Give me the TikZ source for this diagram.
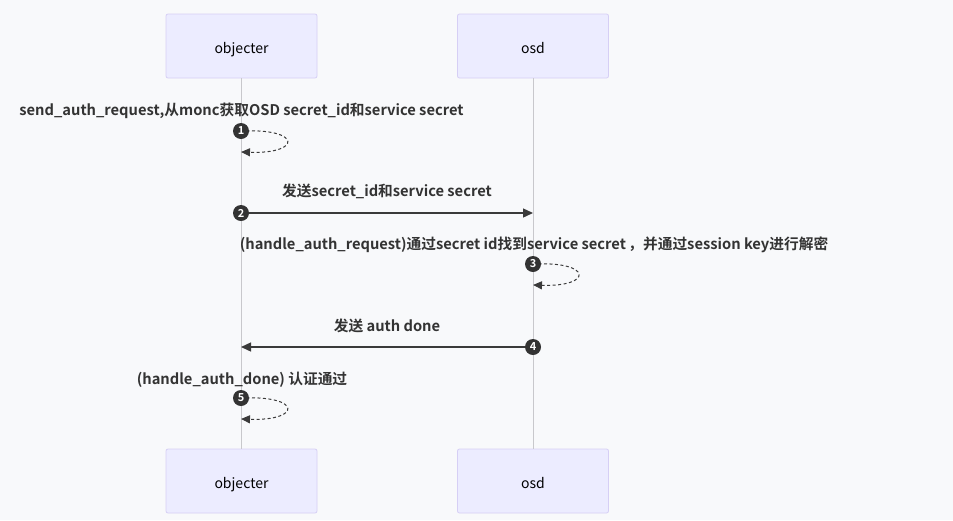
\documentclass[tikz,border=0pt]{standalone}
\usepackage{fontspec}
\setmainfont{Noto Sans CJK SC}[BoldFont={Noto Sans CJK SC Bold}]
\usetikzlibrary{arrows.meta}
\definecolor{bg}{HTML}{F8F9FB}
\definecolor{actfill}{HTML}{ECECFF}
\definecolor{actline}{HTML}{D6CFF5}
\definecolor{life}{HTML}{C8C8CC}
\definecolor{txt}{HTML}{333333}
\definecolor{arr}{HTML}{3A3A3A}
\begin{document}
\begin{tikzpicture}[x=1pt,y=-1pt,
  actor/.style={draw=actline,fill=actfill,rounded corners=2pt,minimum width=151pt,minimum height=64pt,inner sep=0pt,text height=10pt,text depth=3pt,font=\fontsize{14}{17}\selectfont,text=black,line width=0.8pt},
  lifeline/.style={draw=life,line width=0.8pt},
  msg/.style={font=\fontsize{14.7}{17}\selectfont\bfseries,text=txt,inner sep=0pt},
  numc/.style={circle,fill=txt,text=white,minimum size=16pt,inner sep=0pt,font=\fontsize{11}{11}\selectfont\bfseries},
  solidarr/.style={draw=arr,line width=1.4pt,-{Triangle[length=10pt,width=9pt]}},
  loopArr/.style={draw=arr,line width=1pt,dash pattern=on 3pt off 2.5pt,-{Triangle[length=9pt,width=8pt]}}
]
\fill[bg] (0,0) rectangle (953,520);
\useasboundingbox (0,0) rectangle (953,520);

\node[actor] (objT) at (241.5,46) {\raisebox{-4pt}{objecter}};
\node[actor] (osdT) at (533,46) {\raisebox{-3.5pt}{osd}};
\node[actor] (objB) at (241.5,481) {\raisebox{-4pt}{objecter}};
\node[actor] (osdB) at (533,481) {\raisebox{-3.5pt}{osd}};

\draw[lifeline] (objT.south) -- (objB.north);
\draw[lifeline] (osdT.south) -- (osdB.north);

% message 1
\node[msg] (m1) at (241.5,111) {send\_auth\_request,从monc获取OSD secret\_id和service secret};
\coordinate (e1) at (241,152);
\draw[loopArr] (241,131) .. controls (302,128) and (302,154) .. (e1);
\node[numc] (n1) at (241,131) {1};

% message 2
\node[msg] (m2) at (387,191) {发送secret\_id和service secret};
\coordinate (s2) at (241,213);
\coordinate (e2) at (533,213);
\draw[solidarr] (s2) -- (e2);
\node[numc] (n2) at (s2) {2};

% message 3
\node[msg] (m3) at (534,245) {(handle\_auth\_request)通过secret id找到service secret\,，并通过session key进行解密};
\coordinate (e3) at (533,285);
\draw[loopArr] (533,264) .. controls (593,261) and (593,287) .. (e3);
\node[numc] (n3) at (533,264) {3};

% message 4
\node[msg] (m4) at (387,325.5) {发送 auth done};
\coordinate (s4) at (533,347);
\coordinate (e4) at (241,347);
\draw[solidarr] (s4) -- (e4);
\node[numc] (n4) at (s4) {4};

% message 5
\node[msg] (m5) at (242,380) {(handle\_auth\_done) 认证通过};
\coordinate (e5) at (241,419);
\draw[loopArr] (241,398) .. controls (302,395) and (302,421) .. (e5);
\node[numc] (n5) at (241,398) {5};
\end{tikzpicture}
\end{document}
